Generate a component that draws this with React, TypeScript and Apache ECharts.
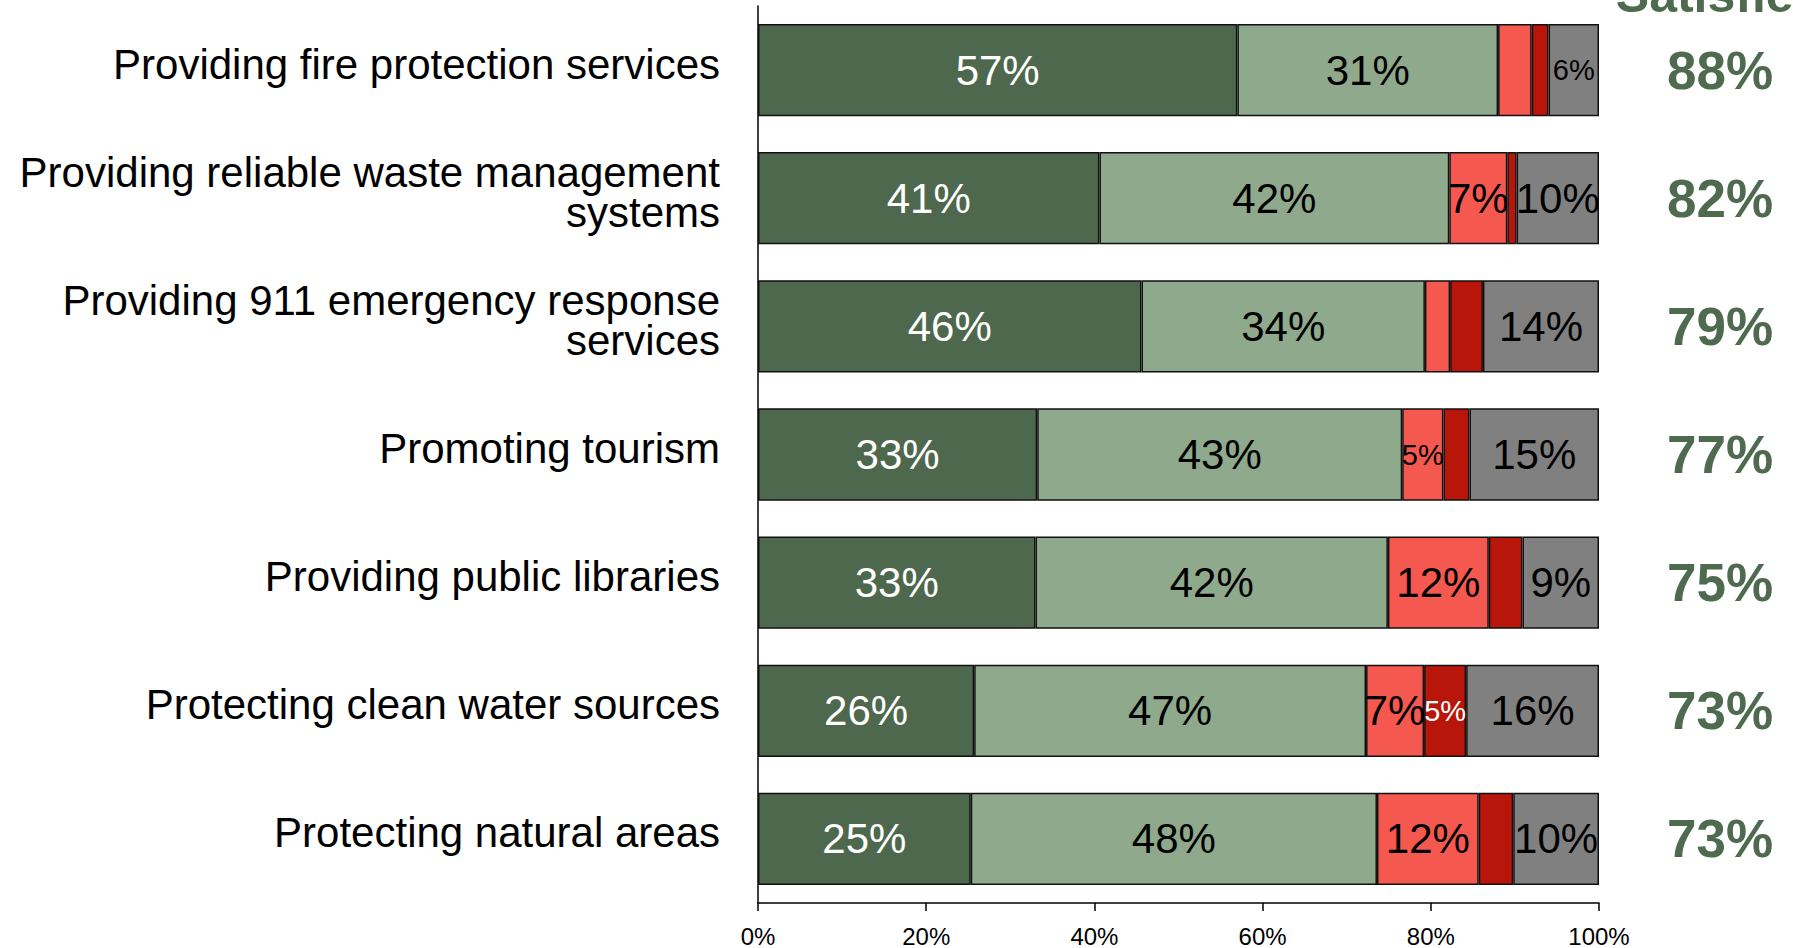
import React, { useEffect, useRef } from "react";
import * as echarts from "echarts";

const categories = [
  "Providing fire protection services",
  "Providing reliable waste management systems",
  "Providing 911 emergency response services",
  "Promoting tourism",
  "Providing public libraries",
  "Protecting clean water sources",
  "Protecting natural areas",
];
// word after which each category label wraps onto a second line ("" = no wrap)
const wrapAfter = ["", "management", "response", "", "", "", ""];

const verySatisfied = [57, 40.6, 45.6, 33.2, 33.0, 25.7, 25.3];
const somewhatSatisfied = [31, 41.6, 33.7, 43.4, 41.9, 46.6, 48.3];
const somewhatDissatisfied = [4.0, 6.9, 3.0, 4.9, 12.0, 6.9, 12.1];
const veryDissatisfied = [2.0, 1.1, 3.9, 3.1, 4.0, 5.0, 4.1];
const dontKnow = [6.0, 9.8, 13.8, 15.4, 9.1, 15.8, 10.2];
const satisfiedTotals = [88, 82, 79, 77, 75, 73, 73];
const xTicks = [0, 20, 40, 60, 80, 100];

const FONT = "'Liberation Sans', Arial, Helvetica, sans-serif";
const GREEN_TEXT = "#4F6B4F";

const seriesDefs = [
  { name: "Very satisfied", data: verySatisfied, color: "#4E684D", text: "#ffffff" },
  { name: "Somewhat satisfied", data: somewhatSatisfied, color: "#8FA98C", text: "#000000" },
  { name: "Somewhat dissatisfied", data: somewhatDissatisfied, color: "#F5584E", text: "#000000" },
  { name: "Very dissatisfied", data: veryDissatisfied, color: "#B8160B", text: "#ffffff" },
  { name: "Don't know", data: dontKnow, color: "#808080", text: "#000000" },
];

export default function App() {
  const ref = useRef<HTMLDivElement>(null);
  useEffect(() => {
    if (!ref.current) return;
    const chart = echarts.init(ref.current, null, { renderer: "svg" });
    const series = seriesDefs.map((s) => ({
      name: s.name,
      type: "bar",
      stack: "total",
      barCategoryGap: "28%",
      itemStyle: { color: s.color, borderColor: "#111", borderWidth: 1.5 },
      label: {
        position: "inside",
        color: s.text,
        fontFamily: FONT,
        formatter: (p: any) => Math.round(p.value) + "%",
      },
      data: s.data.map((v) => ({
        value: v,
        label: { show: v >= 4.5, fontSize: v < 6.5 ? 29 : 42 },
      })),
    }));
    chart.setOption({
      animation: false,
      grid: {
        left: 758,
        right: 194,
        top: 6,
        bottom: 45,
        containLabel: false,
        outerBoundsMode: "none",
      },
      xAxis: {
        type: "value",
        min: 0,
        max: 100,
        interval: 20,
        splitLine: { show: false },
        axisLine: { show: true, lineStyle: { color: "#000", width: 1.5 } },
        axisTick: { show: true, length: 8, lineStyle: { color: "#000", width: 1.5 } },
        axisLabel: {
          color: "#000",
          fontSize: 24,
          fontFamily: FONT,
          margin: 21,
          customValues: xTicks,
          formatter: (v: number) => v + "%",
        },
      },
      yAxis: [
        {
          type: "category",
          inverse: true,
          data: categories,
          axisLine: { show: true, lineStyle: { color: "#000", width: 1.5 } },
          axisTick: { show: false },
          axisLabel: {
            color: "#000",
            fontSize: 42,
            fontFamily: FONT,
            lineHeight: 40,
            margin: 38,
            align: "right",
            formatter: (v: string, i: number) => {
              const w = wrapAfter[i];
              const txt = w ? v.replace(w + " ", w + "\n") : v;
              return txt + "\n{gap| }";
            },
            rich: {
              gap: { fontSize: 2, lineHeight: 12, height: 12 },
            },
          },
        },
        {
          type: "category",
          inverse: true,
          position: "right",
          data: categories,
          axisLine: { show: false },
          axisTick: { show: false },
          axisLabel: {
            color: GREEN_TEXT,
            fontSize: 53,
            fontWeight: "bold",
            fontFamily: FONT,
            margin: 121,
            align: "center",
            formatter: (_v: string, i: number) => satisfiedTotals[i] + "%",
          },
        },
      ],
      graphic: [
        {
          type: "text",
          x: 1720,
          y: -5,
          style: {
            text: "Satisfied",
            fill: GREEN_TEXT,
            font: "bold 50px " + FONT,
            textAlign: "center",
            textVerticalAlign: "middle",
          },
        },
      ],
      series,
    });
    return () => chart.dispose();
  }, []);
  return (
    <div
      ref={ref}
      style={{ position: "absolute", left: 0, top: 0, width: 1793, height: 948, background: "#fff" }}
    />
  );
}
